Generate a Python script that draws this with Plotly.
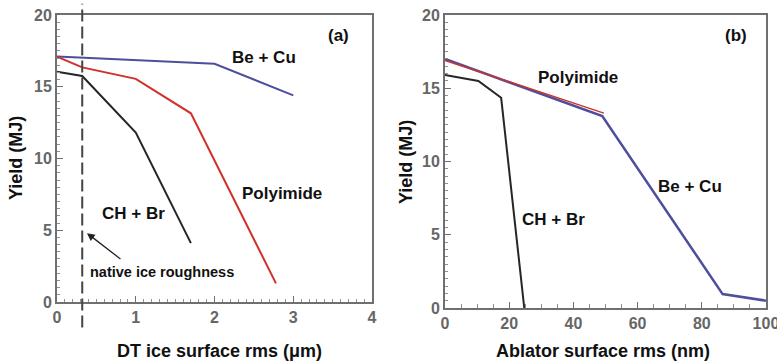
import plotly.graph_objects as go

# Panel (a): DT ice surface rms (um)
a_becu_x = [0, 2.0, 3.0]
a_becu_y = [17.1, 16.6, 14.4]
a_poly_x = [0, 0.32, 1.0, 1.7, 2.78]
a_poly_y = [17.1, 16.35, 15.55, 13.15, 1.3]
a_chbr_x = [0, 0.32, 1.0, 1.7]
a_chbr_y = [16.05, 15.75, 11.8, 4.1]
native_ice = 0.32

# Panel (b): Ablator surface rms (nm)
b_becu_x = [0, 49, 86.5, 100]
b_becu_y = [17.0, 13.1, 0.95, 0.5]
b_poly_x = [0, 49.5]
b_poly_y = [16.9, 13.3]
b_chbr_x = [0, 10.4, 17.5, 24.7]
b_chbr_y = [15.9, 15.5, 14.35, 0]

BLUE = "#4b4f9c"
RED = "#d2302a"
BLACK = "#262626"
FONT = "Liberation Sans"

fig = go.Figure()
fig.add_trace(go.Scatter(x=a_becu_x, y=a_becu_y, mode="lines", line=dict(color=BLUE, width=2), xaxis="x", yaxis="y"))
fig.add_trace(go.Scatter(x=a_poly_x, y=a_poly_y, mode="lines", line=dict(color=RED, width=2), xaxis="x", yaxis="y"))
fig.add_trace(go.Scatter(x=a_chbr_x, y=a_chbr_y, mode="lines", line=dict(color=BLACK, width=2), xaxis="x", yaxis="y"))
fig.add_trace(go.Scatter(x=b_becu_x, y=b_becu_y, mode="lines", line=dict(color=BLUE, width=2.5), xaxis="x2", yaxis="y2"))
fig.add_trace(go.Scatter(x=b_poly_x, y=b_poly_y, mode="lines", line=dict(color=RED, width=1.5), xaxis="x2", yaxis="y2"))
fig.add_trace(go.Scatter(x=b_chbr_x, y=b_chbr_y, mode="lines", line=dict(color=BLACK, width=2), xaxis="x2", yaxis="y2"))

axis_common = dict(
    showline=True, linecolor="#707070", linewidth=2, mirror=True, automargin=False,
    showgrid=False, zeroline=False, ticks="inside", ticklen=6, tickcolor="#707070",
    ticklabeloverflow="allow",
    tickfont=dict(family=FONT, size=16, color="#666666", weight="bold"),
)

fig.update_layout(
    width=777, height=364, margin=dict(l=0, r=0, t=0, b=0),
    paper_bgcolor="white", plot_bgcolor="white", showlegend=False,
    xaxis=dict(domain=[0.0734, 0.4788], range=[0, 4], dtick=1, anchor="y",
               minor=dict(dtick=0.1, ticklen=3, ticks="inside", tickcolor="#909090"), **axis_common),
    yaxis=dict(domain=[0.1703, 0.9588], range=[0, 20], dtick=5, anchor="x",
               minor=dict(dtick=0.5, ticklen=3, ticks="inside", tickcolor="#909090"), **axis_common),
    xaxis2=dict(domain=[0.5727, 0.9858], range=[0, 100], dtick=20, anchor="y2",
                minor=dict(dtick=5, ticklen=4, ticks="inside", tickcolor="#909090"), **axis_common),
    yaxis2=dict(domain=[0.1538, 0.9588], range=[0, 20], dtick=5, anchor="x2",
                minor=dict(dtick=0.5, ticklen=3, ticks="inside", tickcolor="#909090"), **axis_common),
)

fig.add_shape(type="line", xref="x", yref="paper", x0=native_ice, x1=native_ice,
              y0=0.10, y1=0.99, line=dict(color="#444444", width=2, dash="12px,5px"))

W, H = 777, 364
def px(x, y, s, size=17, angle=0):
    fig.add_annotation(x=x / W, y=1 - y / H, xref="paper", yref="paper", text=s, showarrow=False,
                       xanchor="center", yanchor="middle", textangle=angle,
                       font=dict(family=FONT, size=size, color="#111111", weight="bold"))

px(338, 36, "(a)")
px(264, 58, "Be + Cu")
px(282, 193, "Polyimide")
px(133, 213, "CH + Br")
px(162, 272, "native ice roughness", size=14.5)
px(736, 36, "(b)")
px(578, 77, "Polyimide")
px(690, 187, "Be + Cu")
px(553, 219, "CH + Br")
px(219, 351, "DT ice surface rms (\u03bcm)", size=18)
px(603, 351, "Ablator surface rms (nm)", size=18)
px(16, 158, "Yield (MJ)", size=18, angle=-90)
px(406, 162, "Yield (MJ)", size=18, angle=-90)

fig.add_annotation(x=0.38, y=4.8, xref="x", yref="y", ax=35, ay=27, text="",
                   showarrow=True, arrowhead=2, arrowsize=1.2, arrowwidth=1.3, arrowcolor="#222222")

fig.write_html("out.html", config={"displayModeBar": False},
               post_script="document.body.style.margin='0';document.body.style.overflow='hidden';")
